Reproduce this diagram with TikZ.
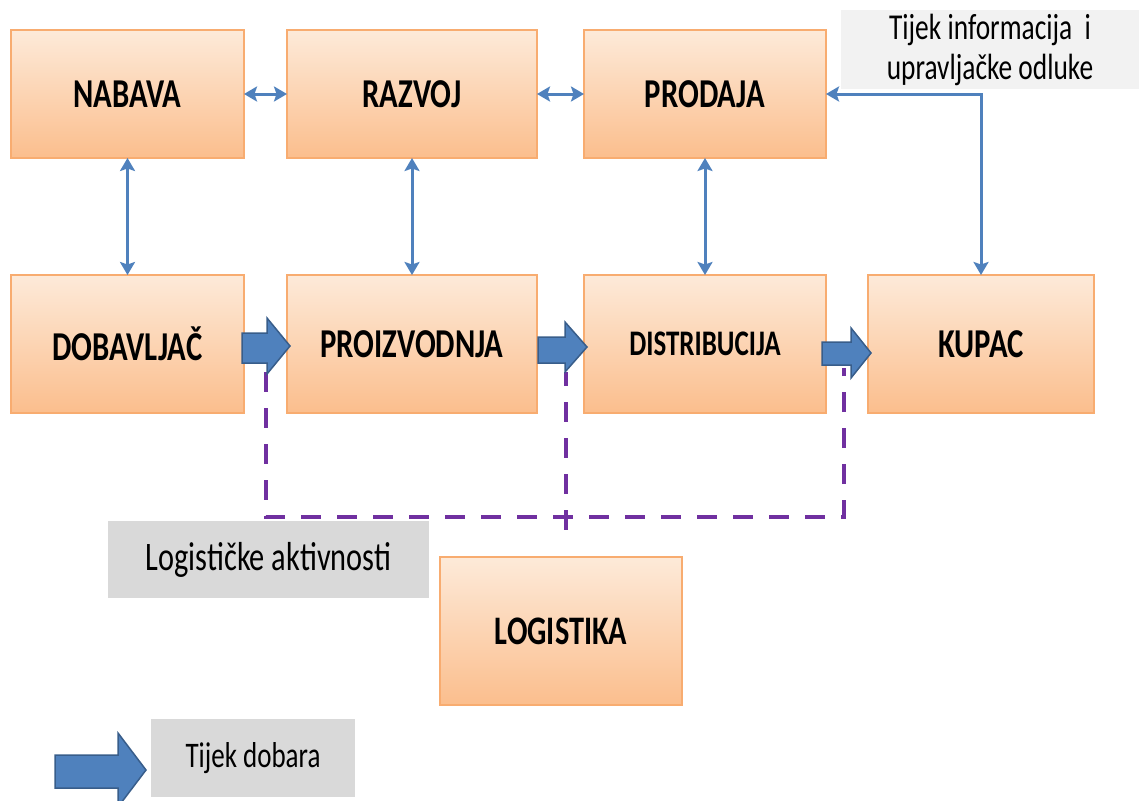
\documentclass[tikz,border=0pt]{standalone}
\usepackage{fontspec}
\setmainfont{Carlito}[FakeStretch=0.75]
\usetikzlibrary{arrows.meta}
\definecolor{boxtop}{RGB}{253,234,217}
\definecolor{boxbot}{RGB}{251,190,141}
\definecolor{boxline}{RGB}{248,172,112}
\definecolor{linkblue}{RGB}{79,129,189}
\definecolor{arrowedge}{RGB}{56,93,138}
\definecolor{dashpurple}{RGB}{112,48,160}
\definecolor{notegray}{RGB}{217,217,217}
\definecolor{infogray}{RGB}{242,242,242}
\tikzset{
  orangebox/.style={draw=boxline, line width=1.3pt, top color=boxtop, bottom color=boxbot,
    inner sep=0pt, outer sep=0pt, font=\fontsize{41}{46}\selectfont\bfseries},
  notebox/.style={fill=notegray, inner sep=0pt, outer sep=0pt, font=\fontsize{40.5}{46}\selectfont},
  infolink/.style={draw=linkblue, line width=3pt, {Stealth[length=13pt,width=15pt,inset=2.5pt]}-{Stealth[length=13pt,width=15pt,inset=2.5pt]}},
  goodsarrow/.style={fill=linkblue, draw=arrowedge, line width=1.5pt, line join=miter},
  logline/.style={draw=dashpurple, line width=4.5pt, dash pattern=on 20pt off 16pt}
}
\begin{document}
\begin{tikzpicture}[x=1pt,y=-1pt]
\useasboundingbox (0,0) rectangle (1139,800);
% info label
\node[fill=infogray, inner sep=0pt, minimum width=298pt, minimum height=79pt,
  align=center, font=\fontsize{36.5}{40}\selectfont] (info) at (990,49.5)
  {Tijek informacija\ \ i\\upravljačke odluke};
% boxes
\node[orangebox, minimum width=233pt, minimum height=128pt] (nab) at (127.5,94) {NABAVA};
\node[orangebox, minimum width=250pt, minimum height=128pt] (raz) at (412,94) {RAZVOJ};
\node[orangebox, minimum width=242pt, minimum height=128pt] (pro) at (705,94) {PRODAJA};
\node[orangebox, minimum width=233pt, minimum height=138pt] (dob) at (127.5,344) {DOBAVLJAČ};
\node[orangebox, minimum width=250pt, minimum height=138pt] (proiz) at (412,344) {PROIZVODNJA};
\node[orangebox, minimum width=242pt, minimum height=138pt, font=\fontsize{36}{40}\selectfont\bfseries] (dist) at (705,344) {DISTRIBUCIJA};
\node[orangebox, minimum width=226pt, minimum height=138pt] (kup) at (981,344) {KUPAC};
\node[orangebox, minimum width=242pt, minimum height=148pt, font=\fontsize{40.5}{46}\selectfont\bfseries] (log) at (561,631) {LOGISTIKA};
% notes
\node[notebox, minimum width=321pt, minimum height=77pt] (act) at (268.5,559.5) {Logističke aktivnosti};
\node[notebox, minimum width=204pt, minimum height=78pt, font=\fontsize{36}{40}\selectfont] (goods) at (253,758) {Tijek dobara};
% information links
\draw[infolink] (nab.east) -- (raz.west);
\draw[infolink] (raz.east) -- (pro.west);
\draw[infolink] (nab.south) -- (dob.north);
\draw[infolink] (raz.south) -- (proiz.north);
\draw[infolink] (pro.south) -- (dist.north);
\coordinate (corner) at (kup.north |- pro.east);
\draw[infolink] (pro.east) -- (corner) -- (kup.north);
% logistics dashed lines
\coordinate (l1) at (266,372);
\coordinate (l2) at (266,517);
\coordinate (r2) at (844,517);
\coordinate (r1) at (844,368);
\coordinate (m1) at (566,372);
\coordinate (m2) at (566,535);
\draw[logline] (l1) -- (l2) -- (r2) -- (r1);
\draw[logline, dash phase=6pt] (m1) -- (m2);
% goods arrows
\draw[goodsarrow] (242,333) -- (267,333) -- (267,318) -- (290,346) -- (267,374) -- (267,363) -- (242,363) -- cycle;
\draw[goodsarrow] (538,337) -- (565,337) -- (565,322) -- (587,347) -- (565,372) -- (565,363) -- (538,363) -- cycle;
\draw[goodsarrow] (822,342) -- (851,342) -- (851,328) -- (871,353) -- (851,378) -- (851,365) -- (822,365) -- cycle;
\draw[goodsarrow] (55,755) -- (118,755) -- (118,733) -- (146,770) -- (118,807) -- (118,788) -- (55,788) -- cycle;
\end{tikzpicture}
\end{document}
